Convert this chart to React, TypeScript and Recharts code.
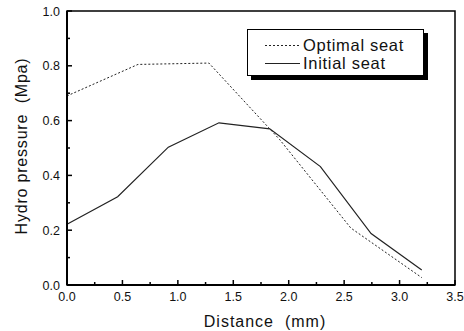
import { LineChart, Line, XAxis, YAxis, ReferenceArea, Legend } from "recharts"

// Distance (mm) / hydro pressure (MPa) for both seat designs
const optimalX = [0, 0.64, 1.28, 1.92, 2.56, 3.2]
const optimalP = [0.69, 0.805, 0.81, 0.53, 0.208, 0.027]
const initialX = [0, 0.457, 0.914, 1.371, 1.829, 2.286, 2.743, 3.2]
const initialP = [0.222, 0.322, 0.503, 0.592, 0.57, 0.432, 0.188, 0.055]

const xTicks = [0, 0.25, 0.5, 0.75, 1, 1.25, 1.5, 1.75, 2, 2.25, 2.5, 2.75, 3, 3.25, 3.5]
const yTicks = [0, 0.1, 0.2, 0.3, 0.4, 0.5, 0.6, 0.7, 0.8, 0.9, 1.0]

const optimalData = optimalX.map((x, i) => ({ x, p: optimalP[i] }))
const initialData = initialX.map((x, i) => ({ x, p: initialP[i] }))

const series = [
  { name: "Optimal seat", data: optimalData, dash: "2 2", width: 1 },
  { name: "Initial seat", data: initialData, dash: undefined, width: 1.2 },
]

const FONT = '"Liberation Sans", Arial, Helvetica, sans-serif'

const XTick = ({ x, y, payload }: any) => {
  const v = payload.value
  const major = Math.abs(v * 2 - Math.round(v * 2)) < 1e-6
  return (
    <g>
      <line x1={x} x2={x} y1={y} y2={y - (major ? 5 : 3)} stroke="#000" strokeWidth={1.5} />
      {major && (
        <text x={x} y={y + 16} textAnchor="middle" fontSize={12.5} fontFamily={FONT} fill="#111">
          {v.toFixed(1)}
        </text>
      )}
    </g>
  )
}

const YTick = ({ x, y, payload }: any) => {
  const v = payload.value
  const major = Math.round(v * 10) % 2 === 0
  return (
    <g>
      <line x1={x} x2={x + (major ? 5 : 3)} y1={y} y2={y} stroke="#000" strokeWidth={1.5} />
      {major && (
        <text x={x - 7} y={y + 4.5} textAnchor="end" fontSize={12.5} fontFamily={FONT} fill="#111">
          {v.toFixed(1)}
        </text>
      )}
    </g>
  )
}

const renderLegend = () => (
  <div
    style={{
      width: 175,
      height: 39.5,
      border: "1.5px solid #000",
      boxShadow: "4px 4px 0 #000",
      background: "#fff",
      boxSizing: "content-box",
      paddingTop: 5.5,
      fontFamily: FONT,
      fontSize: 16.5,
      letterSpacing: 0.7,
      color: "#111",
    }}
  >
    {series.map((s) => (
      <div key={s.name} style={{ display: "flex", alignItems: "center", height: 18, lineHeight: "18px" }}>
        <svg width={55} height={18} style={{ display: "block" }}>
          <line x1={17} x2={52} y1={9.5} y2={9.5} stroke="#222" strokeWidth={s.width} strokeDasharray={s.dash} />
        </svg>
        <span>{s.name}</span>
      </div>
    ))}
  </div>
)

export default function App() {
  return (
    <div style={{ position: "absolute", left: 0, top: 0, background: "#fff" }}>
      <LineChart width={464} height={331} margin={{ top: 11, right: 9, left: 0, bottom: 0 }}>
        <XAxis
          type="number"
          dataKey="x"
          domain={[0, 3.5]}
          ticks={xTicks}
          interval={0}
          height={46}
          tickSize={0}
          tickMargin={0}
          tickLine={false}
          tick={<XTick />}
          axisLine={{ stroke: "#000", strokeWidth: 2 }}
          label={{
            content: () => (
              <text x={265} y={327} textAnchor="middle" fontSize={16} letterSpacing={1} fontFamily={FONT} fill="#111">
                {"Distance\u00A0\u00A0(mm)"}
              </text>
            ),
          }}
        />
        <YAxis
          type="number"
          dataKey="p"
          domain={[0, 1]}
          ticks={yTicks}
          interval={0}
          width={67}
          tickSize={0}
          tickMargin={0}
          tickLine={false}
          tick={<YTick />}
          axisLine={{ stroke: "#000", strokeWidth: 2 }}
          label={{
            content: () => (
              <text
                x={27}
                y={146}
                transform="rotate(-90, 27, 146)"
                textAnchor="middle"
                fontSize={16}
                letterSpacing={0.8}
                fontFamily={FONT}
                fill="#111"
              >
                {"Hydro pressure\u00A0\u00A0(Mpa)"}
              </text>
            ),
          }}
        />
        <ReferenceArea x1={0} x2={3.5} y1={0} y2={1} fill="none" stroke="#000" strokeWidth={1.5} ifOverflow="visible" />
        {series.map((s) => (
          <Line
            key={s.name}
            name={s.name}
            data={s.data}
            dataKey="p"
            type="linear"
            stroke="#222"
            strokeWidth={s.width}
            strokeDasharray={s.dash}
            dot={false}
            activeDot={false}
            isAnimationActive={false}
          />
        ))}
        <Legend
          layout="vertical"
          align="center"
          verticalAlign="middle"
          content={renderLegend}
          wrapperStyle={{ top: 29, left: 247, width: "auto", height: "auto" }}
        />
      </LineChart>
    </div>
  )
}
